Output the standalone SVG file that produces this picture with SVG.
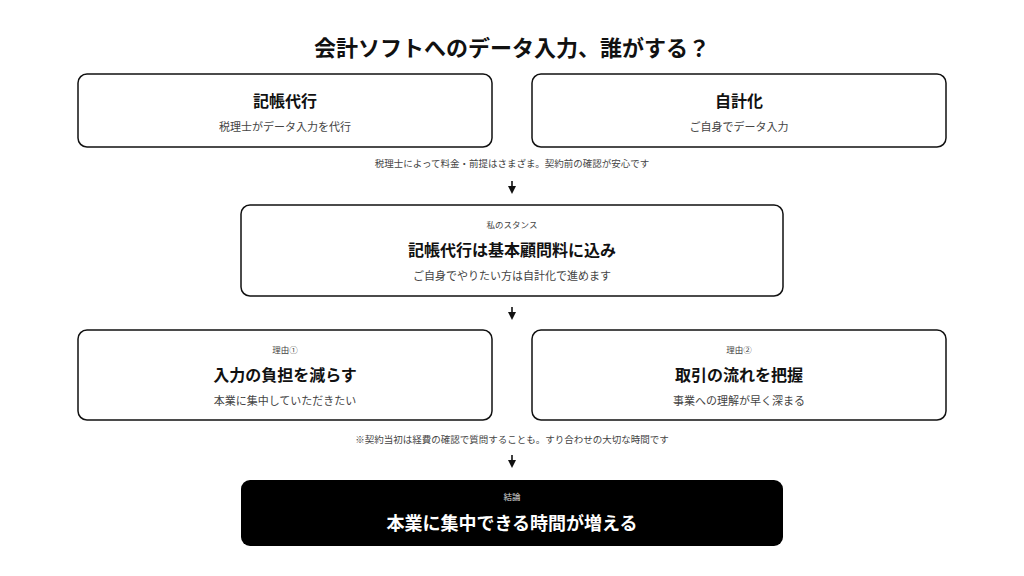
<svg xmlns="http://www.w3.org/2000/svg" width="1024" height="576" viewBox="0 0 1024 576">
<style>
text{font-family:"Noto Sans CJK JP","Noto Sans",sans-serif;text-anchor:middle}
.box{fill:#fff;stroke:#111;stroke-width:1.5}
.h{font-size:16px;font-weight:700;fill:#111}
.hb{font-size:19px;font-weight:700;fill:#111}
.s{font-size:11px;fill:#444}
.t{font-size:8.5px;fill:#444}
.n{font-size:9.5px;fill:#444}
.c{stroke:#111;stroke-width:1.6;fill:none}
</style>
<defs><marker id="ah" markerWidth="8" markerHeight="8" refX="4" refY="4" orient="auto" markerUnits="userSpaceOnUse"><path d="M0,0 L8,4 L0,8Z" fill="#111"/></marker></defs>
<rect width="1024" height="576" fill="#fff"/>
<text x="512" y="56" style="font-size:22px;font-weight:700;fill:#111">会計ソフトへのデータ入力、誰がする？</text>
<g id="n1"><rect class="box" x="78" y="74" width="414" height="73" rx="9"/><text class="h" x="285" y="107">記帳代行</text><text class="s" x="285" y="131">税理士がデータ入力を代行</text></g>
<g id="n2"><rect class="box" x="532" y="74" width="414" height="73" rx="9"/><text class="h" x="739" y="107">自計化</text><text class="s" x="739" y="131">ご自身でデータ入力</text></g>
<text class="n" x="512" y="167">税理士によって料金・前提はさまざま。契約前の確認が安心です</text>
<g id="n3"><rect class="box" x="241" y="205" width="542" height="91" rx="9"/><text class="t" x="512" y="228">私のスタンス</text><text class="h" x="512" y="256">記帳代行は基本顧問料に込み</text><text class="s" x="512" y="280">ご自身でやりたい方は自計化で進めます</text></g>
<g id="n4"><rect class="box" x="78" y="330" width="414" height="90" rx="9"/><text class="t" x="285" y="353">理由①</text><text class="h" x="285" y="381">入力の負担を減らす</text><text class="s" x="285" y="405">本業に集中していただきたい</text></g>
<g id="n5"><rect class="box" x="532" y="330" width="414" height="90" rx="9"/><text class="t" x="739" y="353">理由②</text><text class="h" x="739" y="381">取引の流れを把握</text><text class="s" x="739" y="405">事業への理解が早く深まる</text></g>
<text class="n" x="512" y="443">※契約当初は経費の確認で質問することも。すり合わせの大切な時間です</text>
<g id="n6"><rect x="241" y="480" width="542" height="66" rx="9" fill="#000"/><text class="t" x="512" y="500" style="fill:#ddd">結論</text><text x="512" y="530" style="font-size:18px;font-weight:700;fill:#fff">本業に集中できる時間が増える</text></g>
<g id="connectors">
<line class="c" x1="512" y1="181" x2="512" y2="190" marker-end="url(#ah)"/>
<line class="c" x1="512" y1="307" x2="512" y2="316" marker-end="url(#ah)"/>
<line class="c" x1="512" y1="455" x2="512" y2="464" marker-end="url(#ah)"/>
</g>
</svg>
